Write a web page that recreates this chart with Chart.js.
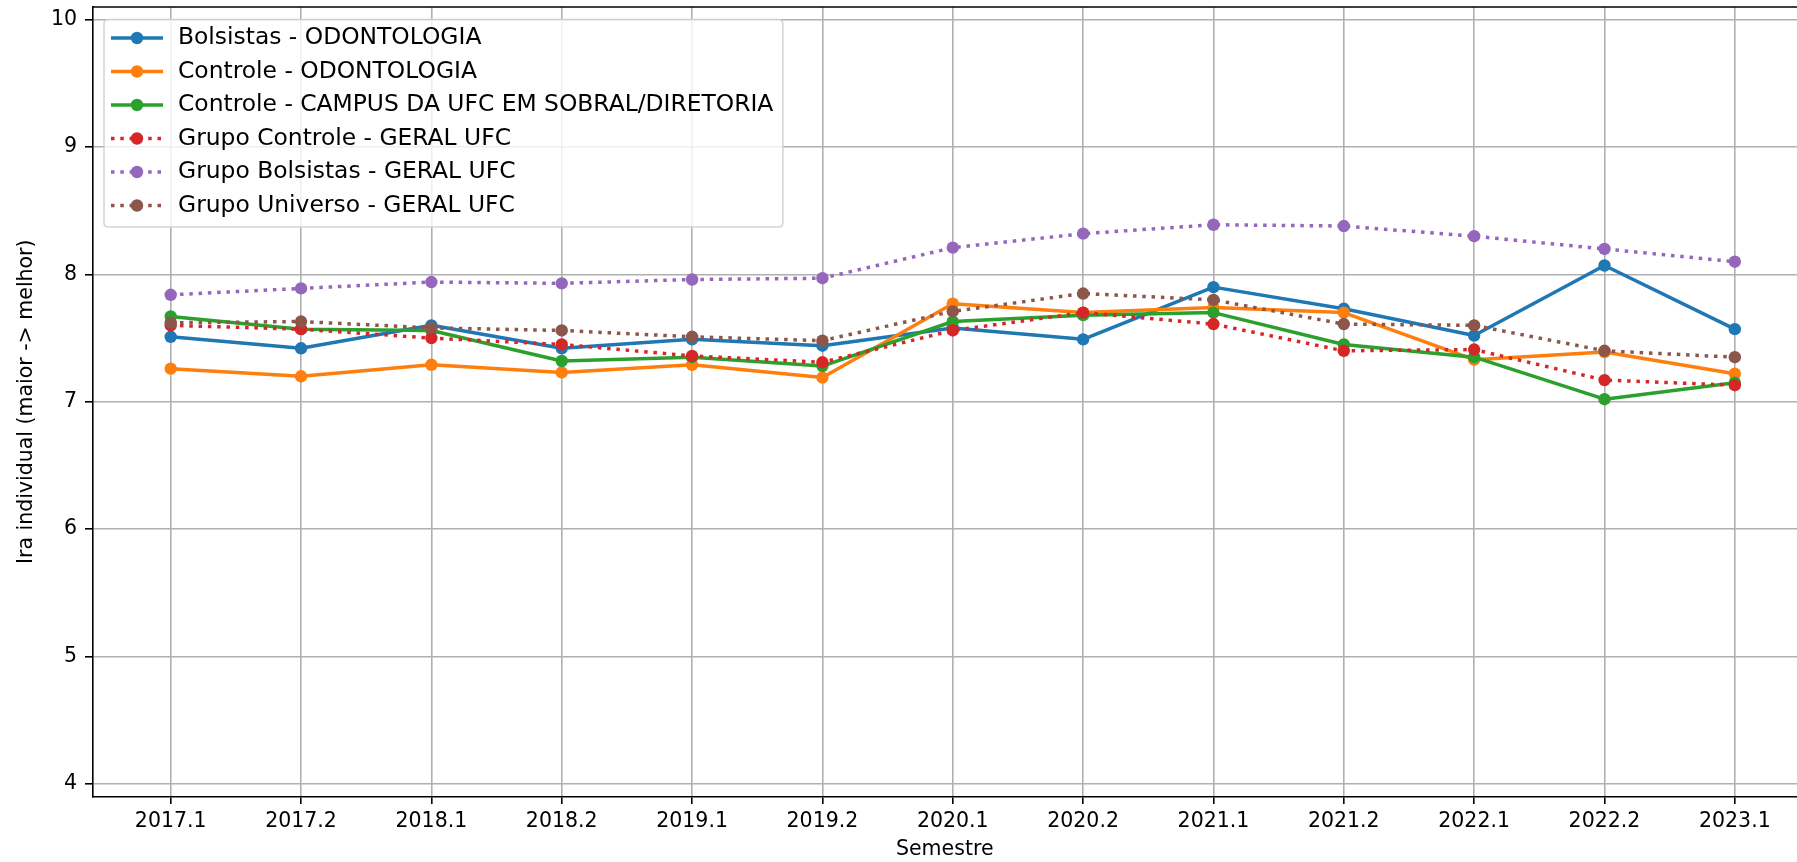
<!DOCTYPE html>
<html>
<head>
<meta charset="utf-8">
<script src="https://cdn.jsdelivr.net/npm/chart.js@4.4.1/dist/chart.umd.min.js"></script>
<style>
html,body{margin:0;padding:0;background:#fff;overflow:hidden;}
#wrap{width:1797px;height:862px;position:relative;}
canvas{display:block;}
</style>
</head>
<body>
<div id="wrap"><canvas id="c" width="1797" height="862"></canvas></div>
<script>
const semesters = ['2017.1','2017.2','2018.1','2018.2','2019.1','2019.2','2020.1','2020.2','2021.1','2021.2','2022.1','2022.2','2023.1'];
const bolsistasOdonto = [7.51,7.42,7.60,7.42,7.49,7.44,7.58,7.49,7.90,7.73,7.52,8.07,7.57];
const controleOdonto  = [7.26,7.20,7.29,7.23,7.29,7.19,7.77,7.70,7.74,7.70,7.33,7.39,7.22];
const controleSobral  = [7.67,7.57,7.56,7.32,7.35,7.28,7.63,7.68,7.70,7.45,7.35,7.02,7.15];
const controleGeral   = [7.60,7.57,7.50,7.45,7.36,7.31,7.56,7.70,7.61,7.40,7.41,7.17,7.13];
const bolsistasGeral  = [7.84,7.89,7.94,7.93,7.96,7.97,8.21,8.32,8.39,8.38,8.30,8.20,8.10];
const universoGeral   = [7.62,7.63,7.58,7.56,7.51,7.48,7.71,7.85,7.80,7.61,7.60,7.40,7.35];
const yTicks = [4,5,6,7,8,9,10];

const seriesLabels = [
  'Bolsistas - ODONTOLOGIA',
  'Controle - ODONTOLOGIA',
  'Controle - CAMPUS DA UFC EM SOBRAL/DIRETORIA',
  'Grupo Controle - GERAL UFC',
  'Grupo Bolsistas - GERAL UFC',
  'Grupo Universo - GERAL UFC'
];
const seriesValues = [bolsistasOdonto, controleOdonto, controleSobral, controleGeral, bolsistasGeral, universoGeral];
const seriesColors = ['#1f77b4','#ff7f0e','#2ca02c','#d62728','#9467bd','#8c564b'];
const seriesDotted = [false,false,false,true,true,true];

const LW = 3.5;
const DOT = [3.5, 5.8];
const FONT = '"DejaVu Sans", "Liberation Sans", sans-serif';

const datasets = seriesValues.map((vals, i) => ({
  label: seriesLabels[i],
  data: vals.map((v, k) => ({x: k, y: v})),
  borderColor: seriesColors[i],
  backgroundColor: seriesColors[i],
  pointBackgroundColor: seriesColors[i],
  pointBorderColor: seriesColors[i],
  pointBorderWidth: 0,
  pointRadius: 6.2,
  pointHoverRadius: 6.2,
  borderWidth: LW,
  borderDash: seriesDotted[i] ? DOT : [],
  borderCapStyle: 'butt',
  borderJoinStyle: 'round',
  tension: 0,
  fill: false,
  order: seriesValues.length - 1 - i
}));

const framePlugin = {
  id: 'frameTop',
  beforeDatasetsDraw(chart) {
    const {ctx, chartArea} = chart;
    ctx.save();
    ctx.strokeStyle = '#000';
    ctx.lineWidth = 1.6;
    ctx.beginPath();
    ctx.moveTo(chartArea.left, chartArea.top);
    ctx.lineTo(chartArea.right, chartArea.top);
    ctx.stroke();
    ctx.restore();
  }
};

const legendPlugin = {
  id: 'mplLegend',
  afterDatasetsDraw(chart) {
    const ctx = chart.ctx;
    const ds = chart.data.datasets;
    ctx.save();
    ctx.font = '23.4px ' + FONT;
    let maxW = 0;
    ds.forEach(d => { maxW = Math.max(maxW, ctx.measureText(d.label).width); });
    const x0 = 104, y0 = 19.5, firstRow = 38, rowH = 33.5;
    const textX = 178;
    const x1 = textX + maxW + 9.5;
    const y1 = 227;
    const r = 4.5;
    ctx.beginPath();
    ctx.moveTo(x0 + r, y0);
    ctx.lineTo(x1 - r, y0);
    ctx.quadraticCurveTo(x1, y0, x1, y0 + r);
    ctx.lineTo(x1, y1 - r);
    ctx.quadraticCurveTo(x1, y1, x1 - r, y1);
    ctx.lineTo(x0 + r, y1);
    ctx.quadraticCurveTo(x0, y1, x0, y1 - r);
    ctx.lineTo(x0, y0 + r);
    ctx.quadraticCurveTo(x0, y0, x0 + r, y0);
    ctx.closePath();
    ctx.fillStyle = 'rgba(255,255,255,0.8)';
    ctx.fill();
    ctx.strokeStyle = 'rgba(204,204,204,0.8)';
    ctx.lineWidth = 1.6;
    ctx.stroke();
    ds.forEach((d, i) => {
      const cy = firstRow + i * rowH;
      ctx.strokeStyle = d.borderColor;
      ctx.lineWidth = d.borderWidth;
      ctx.lineCap = 'butt';
      ctx.setLineDash(d.borderDash || []);
      ctx.beginPath();
      ctx.moveTo(111, cy);
      ctx.lineTo(163, cy);
      ctx.stroke();
      ctx.setLineDash([]);
      ctx.fillStyle = d.pointBackgroundColor;
      ctx.beginPath();
      ctx.arc(137, cy, d.pointRadius, 0, Math.PI * 2);
      ctx.fill();
      ctx.fillStyle = '#000';
      ctx.textAlign = 'left';
      ctx.textBaseline = 'middle';
      ctx.fillText(d.label, textX, cy);
    });
    ctx.restore();
  }
};

function zeroPad(s) { s.paddingTop = 0; s.paddingBottom = 0; s.paddingLeft = 0; s.paddingRight = 0; }

new Chart(document.getElementById('c'), {
  type: 'line',
  data: { datasets },
  options: {
    responsive: false,
    devicePixelRatio: 1,
    animation: false,
    events: [],
    layout: { autoPadding: false, padding: { top: 7, left: 0, right: 0, bottom: 0 } },
    plugins: { legend: { display: false }, tooltip: { enabled: false }, title: { display: false } },
    scales: {
      x: {
        type: 'linear',
        min: -0.6,
        max: 12.477,
        afterBuildTicks: s => { s.ticks = semesters.map((_, i) => ({ value: i })); },
        afterFit: s => { s.height = 65.5; zeroPad(s); },
        ticks: {
          autoSkip: false, maxRotation: 0, minRotation: 0, padding: 5,
          color: '#000',
          font: { family: FONT, size: 20.5 },
          callback: v => semesters[v]
        },
        grid: { color: '#b0b0b0', lineWidth: 1.6, drawTicks: true, tickLength: 7.5, tickColor: '#000', tickWidth: 1.6 },
        border: { color: '#000', width: 1.6 },
        title: { display: true, text: 'Semestre', color: '#000', font: { family: FONT, size: 20.5 }, padding: { top: 0, bottom: 0 } }
      },
      y: {
        type: 'linear',
        min: 3.9,
        max: 10.1,
        afterBuildTicks: s => { s.ticks = yTicks.map(v => ({ value: v })); },
        afterFit: s => { s.width = 92.5; zeroPad(s); },
        ticks: {
          padding: 8, color: '#000',
          font: { family: FONT, size: 20.5 },
          callback: v => String(v)
        },
        grid: { color: '#b0b0b0', lineWidth: 1.6, drawTicks: true, tickLength: 7.5, tickColor: '#000', tickWidth: 1.6 },
        border: { color: '#000', width: 1.6 },
        title: { display: true, text: 'Ira individual (maior -> melhor)', color: '#000', font: { family: FONT, size: 20.5 }, padding: { top: 14, bottom: 0 } }
      }
    }
  },
  plugins: [framePlugin, legendPlugin]
});
</script>
</body>
</html>
